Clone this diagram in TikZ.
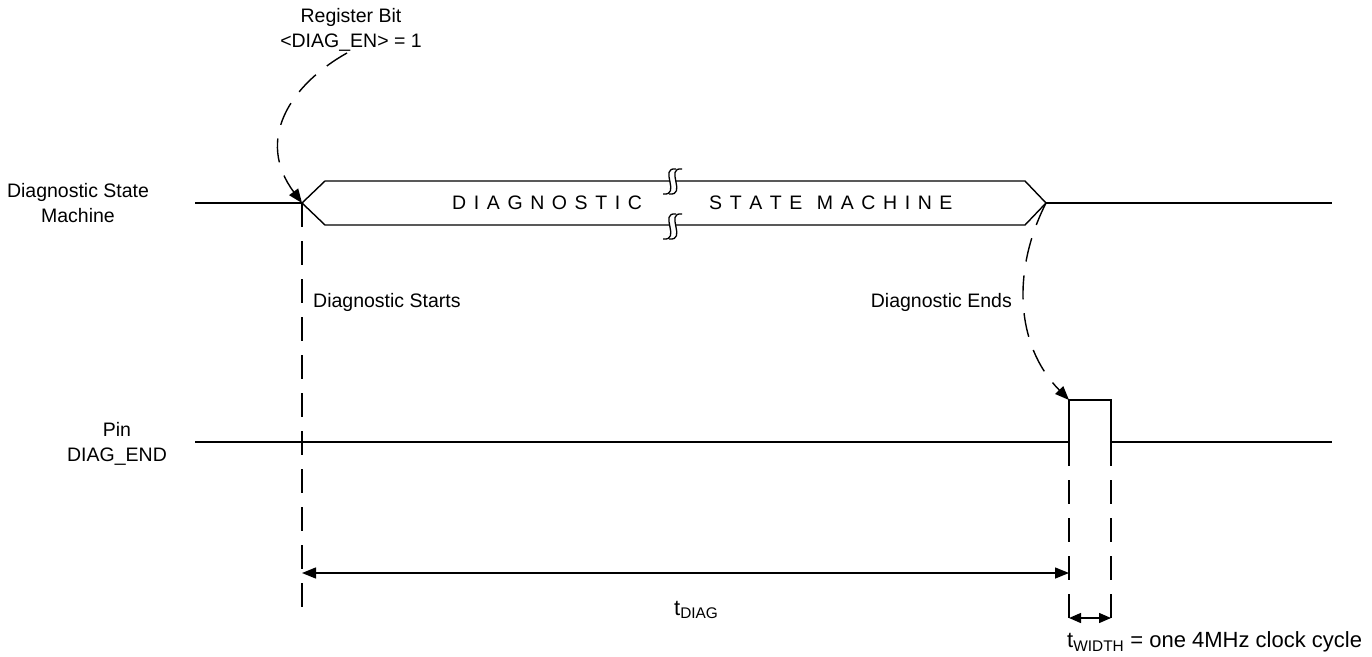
\documentclass[tikz,border=0pt]{standalone}
\usepackage{fontspec}
\setmainfont{Liberation Sans}
\usetikzlibrary{arrows.meta}
\newcommand\lsp{\hspace{7.6pt}}
\begin{document}
\begin{tikzpicture}[x=1pt,y=-1pt,
  sig/.style={line width=1.4pt},
  dsh/.style={line width=1.4pt, dash pattern=on 24pt off 14pt},
  tip/.style={-{Triangle[length=14pt,width=11pt]}},
  lbl/.style={font=\fontsize{19.5}{24.5}\selectfont, inner sep=0pt},
  blbl/.style={font=\fontsize{22}{26}\selectfont, inner sep=0pt},
]
\useasboundingbox (0,0) rectangle (1372,656);
% coordinates
\coordinate (s0) at (195,203);
\coordinate (sA) at (302,203);
\coordinate (sB) at (1046,203);
\coordinate (s1) at (1332,203);
\coordinate (p0) at (195,442);
\coordinate (pr) at (1069,442);
\coordinate (pr2) at (1069,400);
\coordinate (pf2) at (1111,400);
\coordinate (pf) at (1111,442);
\coordinate (p1) at (1332,442);

% labels on left
\node[lbl, align=center] (lsm) at (78,203) {Diagnostic State\\Machine};
\node[lbl, align=center] (lpin) at (117,444) {Pin\\DIAG\_END};

% state machine signal
\draw[sig] (s0) -- (sA);
\draw[sig] (sA) -- (325,181) -- (1025,181) -- (sB) -- (1025,225) -- (325,225) -- cycle;
\draw[sig] (sB) -- (s1);
\node[lbl, anchor=west] (t1) at (452,203) {D\lsp I\lsp A\lsp G\lsp N\lsp O\lsp S\lsp T\lsp I\lsp C};
\node[lbl, anchor=west] (t2) at (709,203) {S\lsp T\lsp A\lsp T\lsp E\hspace{14.5pt}M\lsp A\lsp C\lsp H\lsp I\lsp N\lsp E};

% break marks
\foreach \yy in {169,214} {
  \fill[white] (663,\yy+25) .. controls (682,\yy+27) and (658,\yy-2) .. (676,\yy)
     -- (682,\yy) .. controls (664,\yy-2) and (688,\yy+27) .. (669,\yy+25) -- cycle;
  \draw[line width=1.3pt] (663,\yy+25) .. controls (682,\yy+27) and (658,\yy-2) .. (676,\yy);
  \draw[line width=1.3pt] (669,\yy+25) .. controls (688,\yy+27) and (664,\yy-2) .. (682,\yy);
}

% pin signal
\draw[sig] (p0) -- (pr) -- (pr2) -- (pf2) -- (pf) -- (p1);

% top label and arrow
\node[lbl, align=center] (reg) at (351,30) {Register Bit\\<DIAG\_EN> = 1};
\draw[dsh, tip] (347,53) .. controls (290,85) and (255,140) .. (sA);

% vertical dashed lines
\coordinate (vA) at (302,608);
\coordinate (vB) at (1069,622);
\coordinate (vC) at (1111,622);
\draw[dsh] (sA) -- (vA);
\draw[dsh] (pr) -- (vB);
\draw[dsh] (pf) -- (vC);

\node[lbl, anchor=west] (dst) at (313,302) {Diagnostic Starts};
\node[lbl, anchor=east] (den) at (1012,302) {Diagnostic Ends};
\draw[dsh, tip] (sB) .. controls (1012,270) and (1015,345) .. (pr2);

% dimension arrows
\coordinate (dA) at (302,573);
\coordinate (dB) at (1069,573);
\draw[line width=1.4pt, {Triangle[length=14pt,width=11pt]}-{Triangle[length=14pt,width=11pt]}] (dA) -- (dB);
\node[blbl, anchor=west] (tdiag) at (674,610) {t\textsubscript{DIAG}};
\coordinate (wA) at (1069,618);
\coordinate (wB) at (1111,618);
\draw[line width=1.4pt, {Triangle[length=12pt,width=10pt]}-{Triangle[length=12pt,width=10pt]}] (wA) -- (wB);
\node[blbl, anchor=west] (twid) at (1067,642) {t\textsubscript{WIDTH} = one 4MHz clock cycle};
\end{tikzpicture}
\end{document}
